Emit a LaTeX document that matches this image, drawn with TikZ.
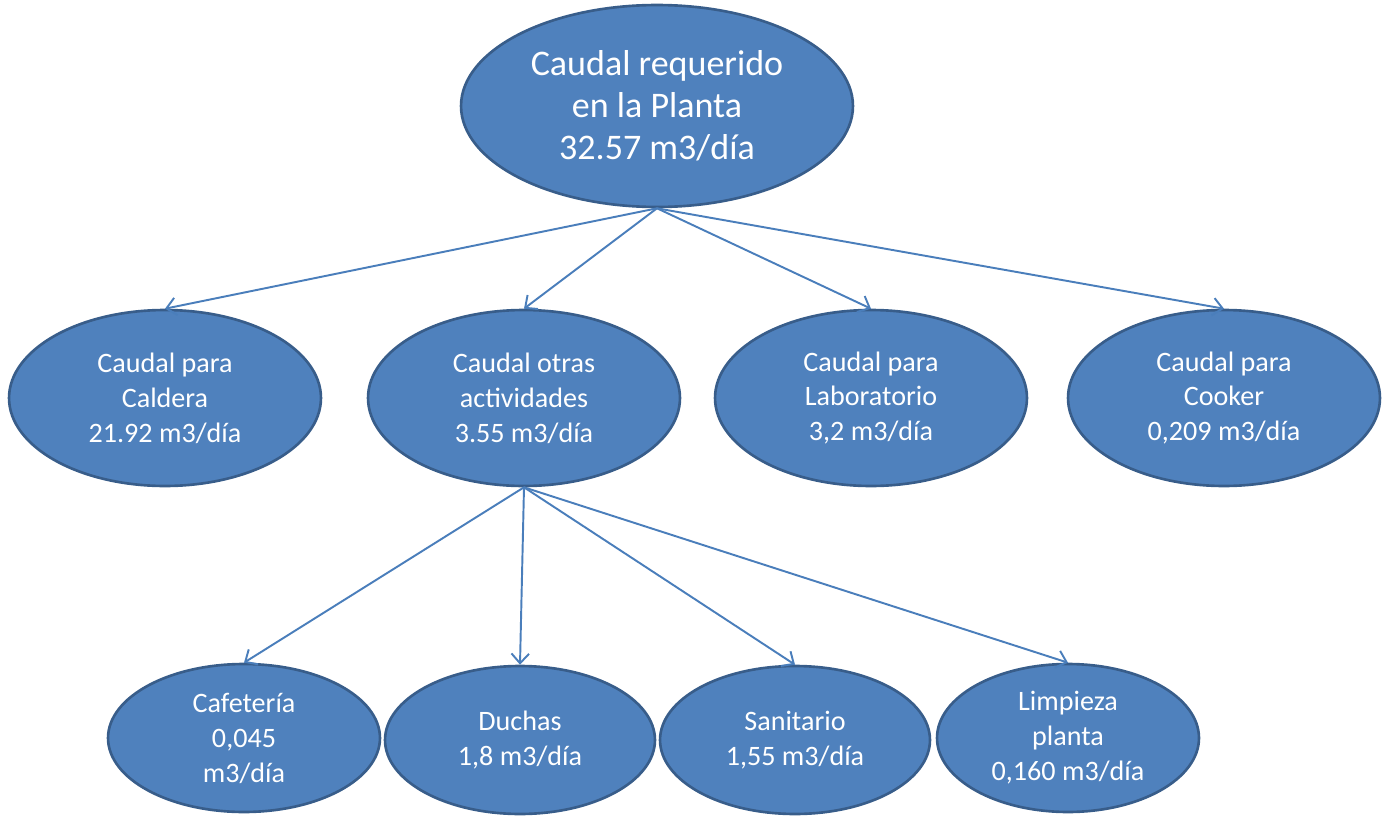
\documentclass[tikz,border=0pt]{standalone}
\usepackage{fontspec}
\setmainfont{Carlito}
\usetikzlibrary{shapes.geometric}
\usetikzlibrary{arrows.meta}
\definecolor{boxfill}{HTML}{4F81BD}
\definecolor{boxline}{HTML}{385D8A}
\definecolor{arrowcol}{HTML}{4A7EBB}
\tikzset{x=0.02cm, y=-0.02cm,
every flow/.style={ % Sets the properties for each ellipse
ellipse, draw=boxline, line width=1.5pt, fill=boxfill,
text=white, align=center, inner sep=0pt},
topflow/.style={every flow, minimum width=7.84cm, minimum height=4.04cm,
font=\fontsize{20.5}{24}\selectfont},
midflow/.style={every flow, minimum width=6.24cm, minimum height=3.52cm,
font=\fontsize{16}{19.9}\selectfont},
lowflow/.style={every flow, minimum height=2.96cm,
font=\fontsize{16}{19.9}\selectfont},
feed/.style={ % Sets the properties for each connector
draw=arrowcol, line width=1.1pt,
-{Straight Barb[length=5.5pt,width=10pt,line width=1.1pt]}}}
\begin{document}
\begin{tikzpicture}
  \useasboundingbox (0,0) rectangle (1383,818);
  % top
  \node[topflow] (planta) at (657,106) {Caudal requerido\\en la Planta\\32.57 m3/día};
  % second row
  \node[midflow] (caldera) at (165,398) {Caudal para\\Caldera\\21.92 m3/día};
  \node[midflow] (otras)   at (524,398) {Caudal otras\\actividades\\3.55 m3/día};
  \node[midflow] (lab)     at (871,398) {Caudal para\\Laboratorio\\3,2 m3/día};
  \node[midflow] (cooker)  at (1224,398) {Caudal para\\Cooker\\0,209 m3/día};
  % third row
  \node[lowflow, minimum width=5.44cm] (cafe)     at (244,738) {Cafetería\\ 0,045\\m3/día};
  \node[lowflow, minimum width=5.40cm] (duchas)   at (520,740) {Duchas\\1,8 m3/día};
  \node[lowflow, minimum width=5.40cm] (sanit)    at (795,740) {Sanitario\\1,55 m3/día};
  \node[lowflow, minimum width=5.24cm] (limpieza) at (1068,738) {Limpieza\\planta\\0,160 m3/día};
  \draw[feed] (planta.south) -- (caldera.north);
  \draw[feed] (planta.south) -- (otras.north);
  \draw[feed] (planta.south) -- (lab.north);
  \draw[feed] (planta.south) -- (cooker.north);
  \draw[feed] (otras.south) -- (cafe.north);
  \draw[feed] (otras.south) -- (duchas.north);
  \draw[feed] (otras.south) -- (sanit.north);
  \draw[feed] (otras.south) -- (limpieza.north);
\end{tikzpicture}
\end{document}
